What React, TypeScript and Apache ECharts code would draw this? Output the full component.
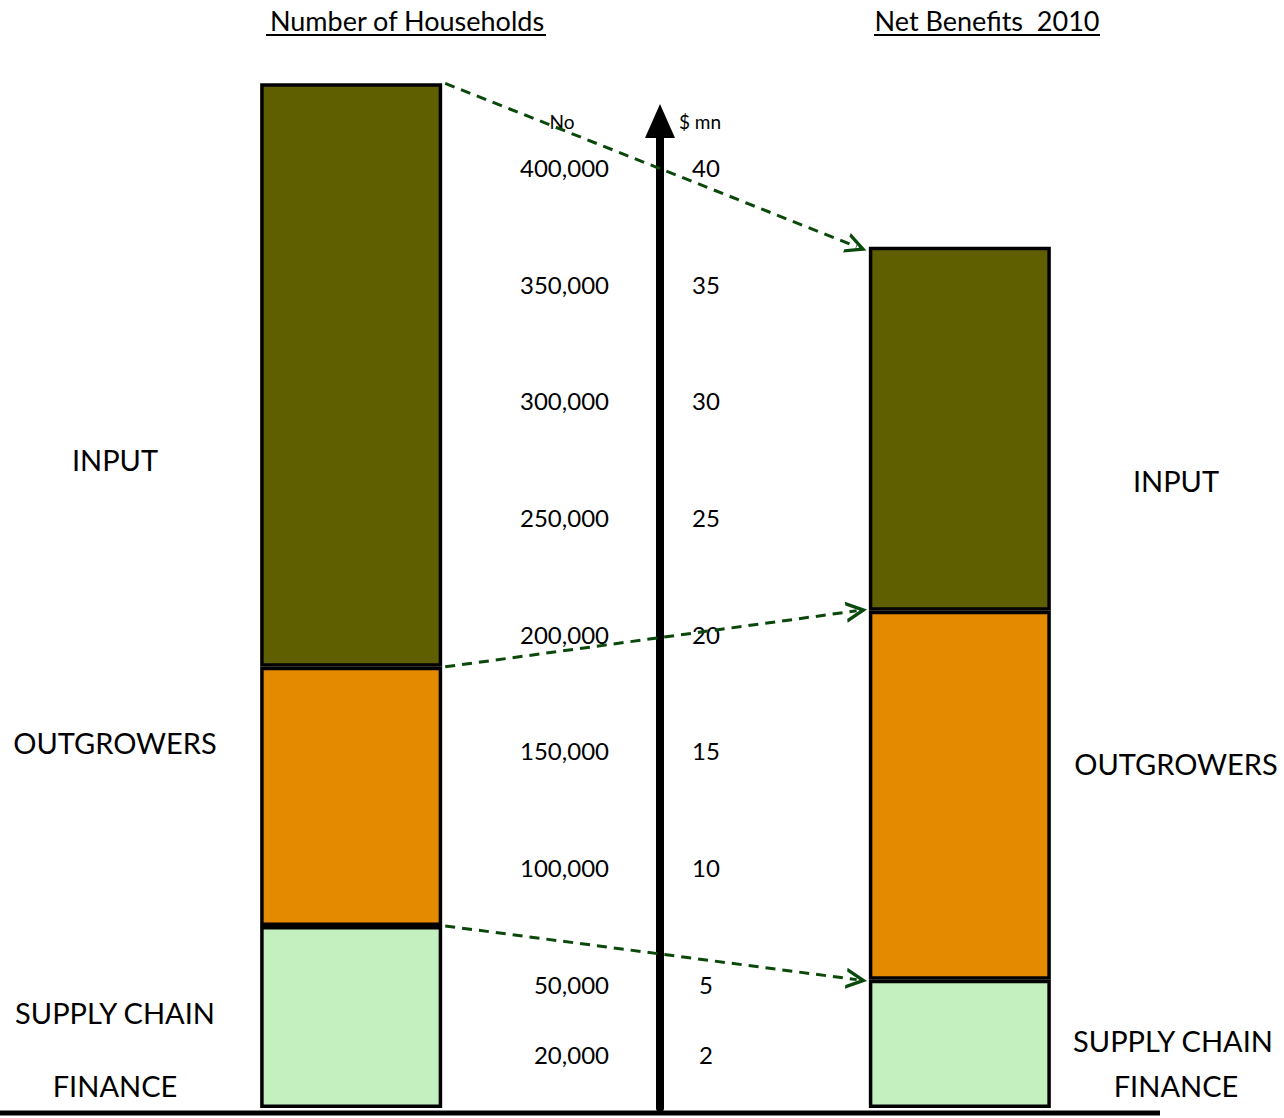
import React, { useEffect, useRef } from "react";
import * as echarts from "echarts";

// ---- data ----
const categories = ["Number of Households", "", "Net Benefits  2010"];
const segmentNames = ["SUPPLY CHAIN FINANCE", "OUTGROWERS", "INPUT"];
const households = [78000, 111000, 250000]; // supply chain, outgrowers, input
const benefits = [5.5, 15.8, 15.6]; // $ mn, same order
const hhTicks = [20000, 50000, 100000, 150000, 200000, 250000, 300000, 350000, 400000];
const mnTicks = [2, 5, 10, 15, 20, 25, 30, 35, 40];
const HH_MAX = 440000;
const MN_MAX = 44;

const colors = ["#c4efbf", "#e48a00", "#5f5f00"];
const FONT = "Lato, 'Open Sans', sans-serif";

export default function App() {
  const ref = useRef<HTMLDivElement>(null);
  useEffect(() => {
    if (!ref.current) return;
    const chart = echarts.init(ref.current, null, { renderer: "svg" });

    const gridTop = 81;
    const gridBottomPx = 1108;
    const axisTop = 121;
    const midMaxHH = HH_MAX * (gridBottomPx - axisTop) / (gridBottomPx - gridTop);
    const factor = HH_MAX / MN_MAX;

    const barWidth = 182;
    const catWidth = (1284 - 199 - 172) / 3;
    const half = barWidth / 2 / catWidth + 0.01;

    const cum = (arr: number[]) => {
      const out: number[] = [];
      let s = 0;
      arr.forEach((v) => { s += v; out.push(s); });
      return out;
    };
    const hhCum = cum(households);
    const mnCum = cum(benefits);
    // arrows: top of supply chain, top of outgrowers, top of input
    const arrowData = [2, 1, 0].map((i) => ({
      coords: [
        [0 + half, hhCum[i]],
        [2 - half - 0.03, mnCum[i] * factor],
      ],
    }));

    const series: any[] = [];
    segmentNames.forEach((name, i) => {
      series.push({
        type: "bar",
        name,
        stack: "hh",
        xAxisIndex: 0,
        yAxisIndex: 0,
        barWidth,
        barGap: "-100%",
        data: [households[i], null, null],
        itemStyle: { color: colors[i], borderColor: "#000", borderWidth: 3.5 },
        z: 2,
      });
    });
    segmentNames.forEach((name, i) => {
      series.push({
        type: "bar",
        name,
        stack: "mn",
        xAxisIndex: 0,
        yAxisIndex: 1,
        barWidth,
        barGap: "-100%",
        data: [null, null, benefits[i]],
        itemStyle: { color: colors[i], borderColor: "#000", borderWidth: 3.5 },
        z: 2,
      });
    });
    series.push({
      type: "lines",
      coordinateSystem: "cartesian2d",
      xAxisIndex: 1,
      yAxisIndex: 0,
      symbol: ["none", "path://M0,14 L10,0 L20,14 L16.5,14 L10,5 L3.5,14 Z"],
      symbolSize: 21,
      lineStyle: { color: "#0b480b", width: 3, type: [10, 7], opacity: 1, curveness: 0 },
      data: arrowData,
      z: 10,
      silent: true,
    });

    const fmt = (v: number) => v.toLocaleString("en-US");

    const catText = (x: number, y: number, text: string) => ({
      type: "text",
      x,
      y,
      style: {
        text,
        fontSize: 29,
        fontFamily: FONT,
        fill: "#000",
        align: "center",
        verticalAlign: "middle",
      },
    });

    const titleText = (x: number, text: string) => ({
      type: "text",
      x,
      y: 20,
      style: {
        text,
        fontSize: 27,
        fontFamily: FONT,
        fill: "#000",
        align: "center",
        verticalAlign: "middle",
      },
    });

    const option: any = {
      animation: false,
      backgroundColor: "#fff",
      grid: [
        { left: 199, right: 172, top: gridTop, bottom: 1118 - gridBottomPx },
        { left: 660, width: 0, top: axisTop, bottom: 1118 - gridBottomPx },
      ],
      xAxis: [
        {
          type: "category",
          gridIndex: 0,
          data: categories,
          axisLine: { show: false },
          axisTick: { show: false },
          axisLabel: { show: false },
        },
        { type: "value", gridIndex: 0, min: -0.5, max: 2.5, show: false },
        { type: "value", gridIndex: 1, show: false },
      ],
      yAxis: [
        { type: "value", gridIndex: 0, min: 0, max: HH_MAX, show: false },
        { type: "value", gridIndex: 0, min: 0, max: MN_MAX, show: false },
        {
          type: "value",
          gridIndex: 1,
          position: "left",
          min: 0,
          max: midMaxHH,
          axisLine: {
            show: true,
            lineStyle: { color: "#000", width: 8 },
            symbol: ["none", "triangle"],
            symbolSize: [30, 34],
          },
          axisTick: { show: false },
          splitLine: { show: false },
          axisLabel: {
            show: true,
            customValues: hhTicks,
            formatter: (v: number) => fmt(v),
            margin: 51,
            fontSize: 24,
            fontFamily: FONT,
            color: "#000",
            verticalAlign: "bottom",
            lineHeight: 14,
          },
          z: 5,
        },
        {
          type: "value",
          gridIndex: 1,
          position: "right",
          min: 0,
          max: midMaxHH / factor,
          axisLine: { show: false },
          axisTick: { show: false },
          splitLine: { show: false },
          axisLabel: {
            show: true,
            customValues: mnTicks,
            formatter: (v: number) => String(v),
            margin: 46,
            align: "center",
            fontSize: 24,
            fontFamily: FONT,
            color: "#000",
            verticalAlign: "bottom",
            lineHeight: 14,
          },
        },
      ],
      series,
      graphic: [
        {
          type: "line",
          shape: { x1: 0, y1: 1113, x2: 1160, y2: 1113 },
          style: { stroke: "#000", lineWidth: 5 },
          z: 1,
        },
        titleText(407, categories[0]),
        {
          type: "line",
          shape: { x1: 266, y1: 35, x2: 546, y2: 35 },
          style: { stroke: "#000", lineWidth: 2 },
        },
        titleText(987, categories[2]),
        {
          type: "line",
          shape: { x1: 874, y1: 35, x2: 1100, y2: 35 },
          style: { stroke: "#000", lineWidth: 2 },
        },
        {
          type: "text",
          x: 562,
          y: 121,
          style: { text: "No", fontSize: 19, fontFamily: FONT, fill: "#000", align: "center", verticalAlign: "middle" },
        },
        {
          type: "text",
          x: 700,
          y: 121,
          style: { text: "$ mn", fontSize: 19, fontFamily: FONT, fill: "#000", align: "center", verticalAlign: "middle" },
        },
        catText(115, 459, "INPUT"),
        catText(115, 742, "OUTGROWERS"),
        catText(115, 1012, "SUPPLY CHAIN"),
        catText(115, 1085, "FINANCE"),
        catText(1176, 480, "INPUT"),
        catText(1176, 763, "OUTGROWERS"),
        catText(1173, 1040, "SUPPLY CHAIN"),
        catText(1176, 1085, "FINANCE"),
      ],
    };
    chart.setOption(option);
    return () => chart.dispose();
  }, []);
  return (
    <div
      ref={ref}
      style={{ position: "absolute", left: 0, top: 0, width: 1284, height: 1118 }}
    />
  );
}
